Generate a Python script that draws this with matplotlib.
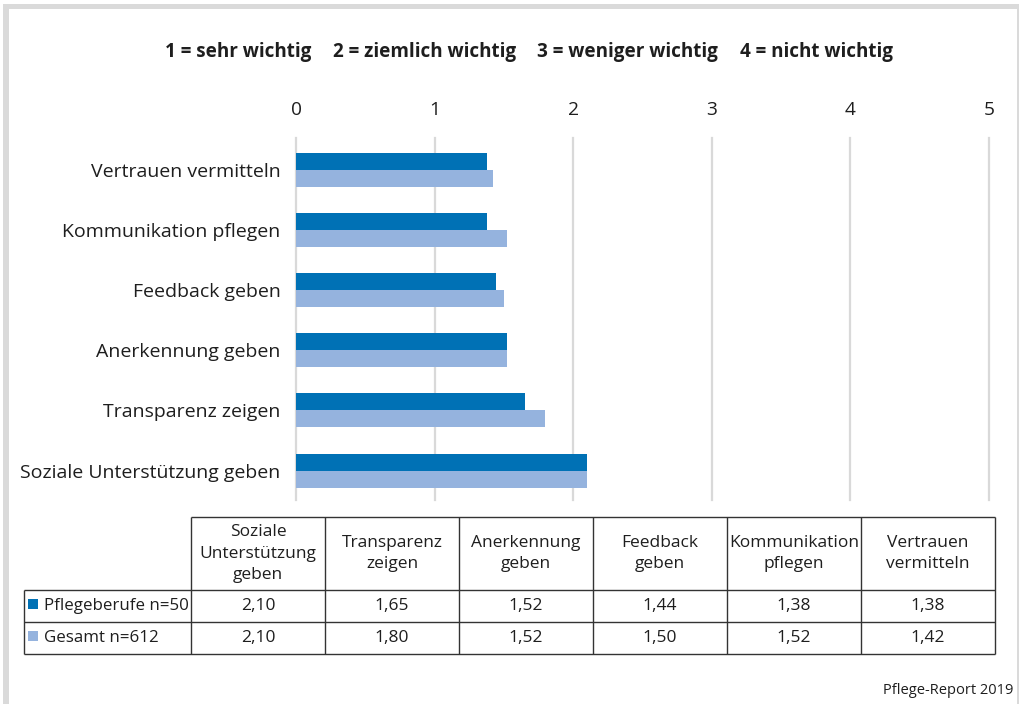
import matplotlib
matplotlib.use("Agg")
import matplotlib.pyplot as plt
from matplotlib.patches import Rectangle

plt.rcParams['font.family'] = ['Open Sans', 'DejaVu Sans']

# data (bottom to top in the chart)
categories = ["Soziale Unterstützung geben", "Transparenz zeigen", "Anerkennung geben",
              "Feedback geben", "Kommunikation pflegen", "Vertrauen vermitteln"]
table_headers = ["Soziale\nUnterstützung\ngeben", "Transparenz\nzeigen", "Anerkennung\ngeben",
                 "Feedback\ngeben", "Kommunikation\npflegen", "Vertrauen\nvermitteln"]
pflege = [2.10, 1.65, 1.52, 1.44, 1.38, 1.38]
gesamt = [2.10, 1.80, 1.52, 1.50, 1.52, 1.42]
series_names = ["Pflegeberufe n=50", "Gesamt n=612"]
scale_labels = ["1 = sehr wichtig", "2 = ziemlich wichtig", "3 = weniger wichtig", "4 = nicht wichtig"]
xticks = [0, 1, 2, 3, 4, 5]
source = "Pflege-Report 2019"

dark = "#0071B5"
light = "#95B3DE"
txt = "#1E1E1E"
W, H = 1020, 704

fig = plt.figure(figsize=(W / 100, H / 100), dpi=100)

# grey frame
frame = "#DADADA"
fig.add_artist(Rectangle((3 / W, 1 - 9 / H), 1016 / W, 5 / H, transform=fig.transFigure, color=frame, lw=0))
fig.add_artist(Rectangle((3 / W, 0), 6 / W, 1 - 4 / H, transform=fig.transFigure, color=frame, lw=0))
fig.add_artist(Rectangle((1017 / W, 0), 2 / W, 1 - 4 / H, transform=fig.transFigure, color=frame, lw=0))

# scale legend on top
label_x = [165, 333, 537, 740]
for lx, lab in zip(label_x, scale_labels):
    fig.text(lx / W, 1 - 52 / H, lab, ha='left', va='center', fontsize=13.6,
             fontweight='bold', color=txt)

# bar chart
ax = fig.add_axes([296 / W, 1 - 500 / H, 693 / W, 362 / H])
ypos = list(range(len(categories)))
bh = 0.283
ax.barh(ypos, pflege, height=bh, align='edge', color=dark, zorder=2)
ax.barh(ypos, gesamt, height=-bh, align='edge', color=light, zorder=2)
ax.set_xlim(0, 5)
ax.set_ylim(-0.49, 5.53)
ax.set_xticks(xticks)
ax.xaxis.tick_top()
ax.tick_params(axis='x', length=0, pad=14, labelsize=13.8, labelcolor=txt)
ax.set_yticks(ypos)
ax.set_yticklabels(categories)
ax.tick_params(axis='y', length=0, pad=11, labelsize=14, labelcolor=txt)
ax.grid(axis='x', color='#D9D9D9', lw=1.6, zorder=0)
ax.set_axisbelow(True)
for gl in ax.get_xgridlines():
    gl.set_clip_on(False)
for s in ax.spines.values():
    s.set_visible(False)

# data table, drawn in pixel-like units
tax = fig.add_axes([24 / W, 1 - 654 / H, 971 / W, 137 / H])
tax.set_xlim(0, 971)
tax.set_ylim(137, 0)
tax.axis('off')
label_w, col_w = 167, 134
head_h, row_h = 73, 32
col_edges = [0, label_w] + [label_w + col_w * (k + 1) for k in range(len(table_headers))]
row_edges = [0, head_h, head_h + row_h, head_h + 2 * row_h]
line_kw = dict(color='#333333', lw=1, clip_on=False)

tax.hlines(0, label_w, col_edges[-1], **line_kw)
tax.hlines(row_edges[1:], 0, col_edges[-1], **line_kw)
tax.vlines(0, head_h, row_edges[-1], **line_kw)
tax.vlines(col_edges[1:], 0, row_edges[-1], **line_kw)

for j, head in enumerate(table_headers):
    xc = (col_edges[j + 1] + col_edges[j + 2]) / 2
    tax.text(xc, head_h / 2, head, ha='center', va='center', fontsize=12.5,
             color=txt, linespacing=1.42)

for i, (name, vals, col) in enumerate(zip(series_names, [pflege, gesamt], [dark, light])):
    yc = head_h + row_h * (i + 0.5)
    tax.add_patch(Rectangle((4, yc - 7), 10, 10, color=col, lw=0))
    tax.text(20, yc, name, ha='left', va='center', fontsize=12.2, color=txt)
    for j, v in enumerate(vals):
        xc = (col_edges[j + 1] + col_edges[j + 2]) / 2
        tax.text(xc, yc, f"{v:.2f}".replace('.', ','), ha='center', va='center',
                 fontsize=12.5, color=txt)

fig.text(1013 / W, 1 - 690 / H, source, ha='right', va='center', fontsize=10.5, color=txt)

fig.savefig("out.png", dpi=100)
